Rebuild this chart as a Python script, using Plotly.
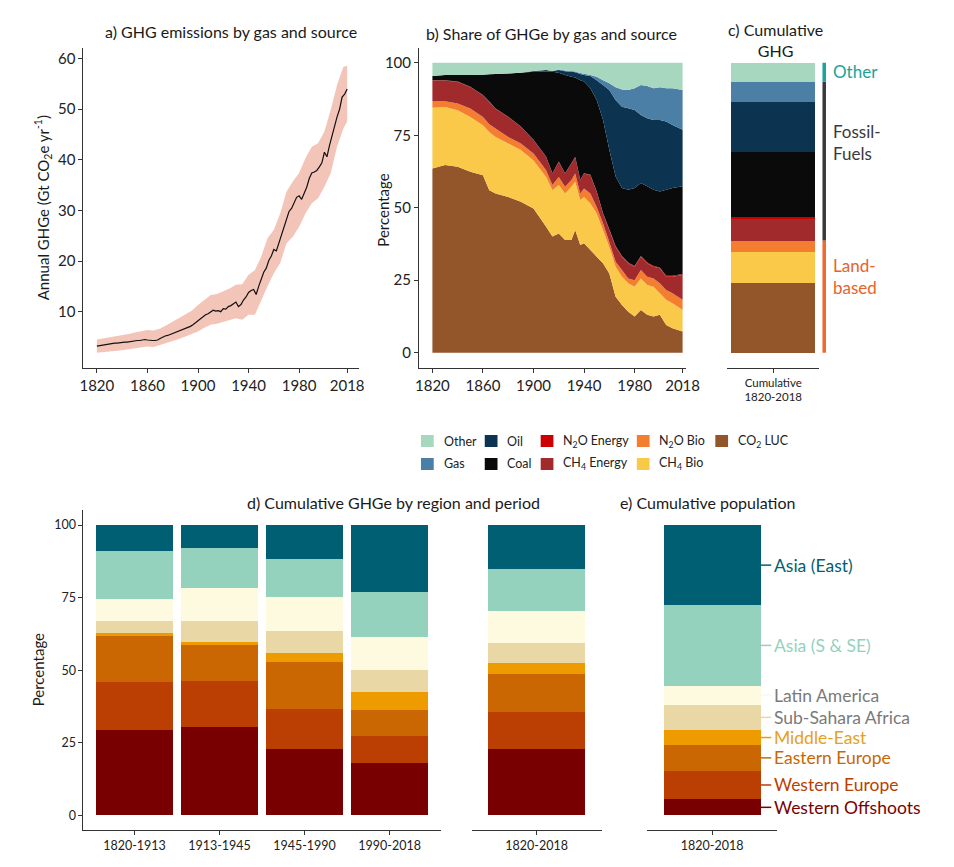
import plotly.graph_objects as go

W, H = 954, 867
FONT = "Lato"


def px(x):
    return x / W


def py(y):
    return 1 - y / H


# ---- a) annual GHG emissions (Gt CO2e / yr) ----
years_a = list(range(1820, 2019, 2))
ghg_total = [3.2, 3.3, 3.4, 3.5, 3.6, 3.6, 3.7, 3.8, 3.8, 3.9,
             3.9, 4.0, 4.0, 4.1, 4.2, 4.2, 4.3, 4.3, 4.4, 4.5,
             4.4, 4.3, 4.3, 4.3, 4.4, 4.7, 5.0, 5.2, 5.3, 5.5,
             5.7, 5.9, 6.1, 6.2, 6.5, 6.7, 6.9, 7.1, 7.4, 7.8,
             8.3, 8.7, 9.0, 9.4, 9.6, 10.0, 10.3, 10.1, 10.2, 10.0,
             10.6, 10.5, 11.0, 11.2, 11.6, 11.9, 11.0, 11.4, 12.3, 12.9,
             13.8, 14.2, 14.4, 13.4, 15.0, 16.6, 17.8, 18.6, 20.1, 21.0,
             22.3, 22.0, 23.5, 25.0, 26.6, 28.2, 29.8, 30.4, 31.4, 32.6,
             32.9, 32.2, 33.4, 34.6, 36.3, 37.4, 37.6, 37.9, 38.6, 39.4,
             41.5, 40.6, 42.8, 44.8, 46.8, 48.5, 50.0, 52.4, 53.0, 54.0]
years_band = list(range(1820, 2016, 5)) + [2018]
ghg_upper = [4.5, 4.7, 4.9, 5.1, 5.4, 5.6, 5.9, 6.1, 6.4, 6.3,
             6.7, 7.3, 8.0, 8.7, 9.4, 10.2, 11.3, 12.3, 13.3, 13.5,
             14.0, 14.6, 15.3, 15.4, 17.3, 18.2, 20.9, 24.5, 26.2, 29.4,
             33.7, 35.7, 37.4, 40.3, 42.6, 43.3, 45.6, 49.9, 54.8, 58.4, 58.6]
ghg_lower = [1.9, 2.0, 2.2, 2.3, 2.4, 2.6, 2.8, 2.9, 3.1, 3.0,
             3.4, 3.7, 4.1, 4.6, 5.1, 5.6, 6.1, 6.8, 7.4, 7.6,
             8.0, 8.4, 8.7, 8.4, 9.4, 9.4, 12.3, 15.0, 17.6, 19.6,
             23.5, 24.8, 26.8, 29.4, 31.4, 32.4, 34.7, 37.4, 42.6, 46.2, 47.6]

# ---- b) share by gas and source (%), stacked bottom-up ----
years_b = [1820, 1830, 1840, 1850, 1860, 1865, 1870, 1880, 1890, 1900,
           1910, 1915, 1920, 1925, 1930, 1933, 1937, 1940, 1945, 1950,
           1955, 1960, 1965, 1970, 1975, 1980, 1985, 1990, 1995, 2000,
           2005, 2010, 2018]
co2_luc = [63.6, 64.8, 64.2, 62.5, 61.3, 56.1, 55.0, 53.8, 52.1, 49.8,
           43.5, 40.1, 41.2, 38.9, 38.9, 42.4, 37.2, 37.8, 35.5, 33.2,
           30.9, 27.4, 19.4, 16.5, 14.2, 12.5, 14.8, 13.1, 12.5, 13.1,
           9.6, 8.5, 7.3]
ch4_bio = [21.0, 20.0, 19.5, 18.9, 17.2, 20.1, 19.5, 18.4, 17.9, 16.6,
           17.2, 16.0, 16.7, 16.1, 18.4, 16.6, 15.5, 16.0, 16.0, 14.9,
           11.5, 9.2, 10.3, 9.8, 9.8, 10.3, 10.9, 10.3, 10.3, 7.5,
           8.7, 8.6, 7.5]
n2o_bio = [2.2, 2.0, 2.3, 2.9, 2.9, 2.7, 2.9, 2.3, 2.2, 2.4,
           2.3, 1.8, 2.8, 2.3, 2.3, 2.9, 2.3, 2.9, 3.5, 2.3,
           2.3, 1.7, 1.8, 2.3, 1.7, 2.3, 2.9, 2.9, 2.9, 3.4,
           3.4, 3.5, 3.5]
ch4_energy = [7.2, 7.2, 7.5, 7.4, 7.5, 7.7, 6.8, 6.9, 5.8, 4.6,
              4.6, 4.0, 5.2, 4.6, 5.7, 5.7, 4.6, 5.2, 6.3, 5.2,
              3.4, 4.1, 5.1, 4.6, 5.2, 4.6, 4.6, 4.6, 4.0, 5.2,
              4.6, 5.7, 8.6]
n2o_energy = [0.1, 0.1, 0.1, 0.1, 0.1, 0.1, 0.1, 0.1, 0.1, 0.1,
              0.1, 0.1, 0.1, 0.1, 0.1, 0.1, 0.1, 0.1, 0.1, 0.2,
              0.2, 0.3, 0.3, 0.3, 0.3, 0.3, 0.3, 0.3, 0.3, 0.3,
              0.3, 0.3, 0.3]
coal = [1.4, 1.8, 2.3, 4.1, 7.0, 9.4, 11.9, 14.9, 18.6, 23.5,
        29.3, 35.0, 30.7, 33.9, 29.9, 27.3, 34.4, 31.6, 29.9, 31.5,
        32.2, 27.5, 24.1, 23.5, 25.2, 27.0, 25.2, 26.4, 26.4, 26.3,
        29.8, 30.4, 30.4]
oil = [0, 0, 0, 0, 0, 0, 0, 0, 0, 0.3,
       0.6, 0.3, 0.9, 1.3, 1.7, 1.8, 2.1, 2.3, 4.2, 6.9,
       12.0, 20.7, 26.4, 28.1, 28.2, 27.0, 23.5, 23.5, 24.1, 24.7,
       23.6, 21.8, 19.5]
gas = [0, 0, 0, 0, 0, 0, 0, 0, 0, 0,
       0, 0, 0.2, 0.2, 0.3, 0.3, 0.4, 0.4, 0.4, 1.2,
       1.7, 2.3, 4.4, 6.0, 6.3, 7.5, 10.4, 11.2, 11.0, 11.3,
       11.5, 12.7, 13.8]
other = [4.6, 4.2, 4.2, 4.2, 4.1, 4.0, 3.9, 3.7, 3.4, 2.8,
         2.5, 2.8, 2.3, 2.7, 2.8, 3.0, 3.5, 3.8, 4.2, 4.8,
         6.0, 7.1, 8.5, 9.2, 9.4, 8.8, 7.7, 8.0, 8.8, 8.5,
         8.8, 8.8, 9.4]

source_names = ["CO<sub>2</sub> LUC", "CH<sub>4</sub> Bio", "N<sub>2</sub>O Bio",
                "CH<sub>4</sub> Energy", "N<sub>2</sub>O Energy", "Coal", "Oil", "Gas", "Other"]
source_colors = ["#93552a", "#fbc94a", "#f37e2f", "#a02a2c", "#cc0000",
                 "#0a0a0a", "#0c3350", "#4b7fa5", "#a7d7be"]
source_series = [co2_luc, ch4_bio, n2o_bio, ch4_energy, n2o_energy, coal, oil, gas, other]

# ---- c) cumulative share 1820-2018 (%) same order as sources ----
cum_label = ["Cumulative<br>1820-2018"]
cum_sources = [24.0, 10.7, 4.0, 7.7, 0.3, 22.7, 17.2, 6.9, 6.5]

# ---- d) / e) regions, bottom-up ----
regions = ["Western Offshoots", "Western Europe", "Eastern Europe", "Middle-East",
           "Sub-Sahara Africa", "Latin America", "Asia (S & SE)", "Asia (East)"]
region_colors = ["#780000", "#bb3e03", "#ca6702", "#ee9b00",
                 "#e9d8a6", "#fefae0", "#94d2bd", "#005f73"]
region_text_colors = ["#7a0000", "#bb3e03", "#ca6702", "#e8a020",
                      "#7a7a7a", "#7a7a7a", "#94d2bd", "#005f73"]
periods = ["1820-1913", "1913-1945", "1945-1990", "1990-2018"]
ghg_1820_1913 = [29.4, 16.6, 15.9, 0.9, 4.2, 7.6, 16.6, 8.8]
ghg_1913_1945 = [30.4, 15.9, 12.4, 1.0, 7.2, 11.5, 13.8, 7.8]
ghg_1945_1990 = [22.8, 13.8, 16.1, 3.3, 7.5, 11.6, 13.3, 11.6]
ghg_1990_2018 = [18.1, 9.2, 9.0, 6.3, 7.5, 11.4, 15.5, 23.0]
ghg_1820_2018 = [23.0, 12.5, 13.2, 3.7, 7.0, 10.9, 14.7, 15.0]
pop_1820_2018 = [5.5, 9.9, 8.8, 5.2, 8.7, 6.6, 27.7, 27.6]
total_label = ["1820-2018"]

fig = go.Figure()

# a) uncertainty band + line
fig.add_trace(go.Scatter(x=years_band, y=ghg_lower, mode="lines", line=dict(width=0),
                         showlegend=False, hoverinfo="skip", xaxis="x", yaxis="y"))
fig.add_trace(go.Scatter(x=years_band, y=ghg_upper, mode="lines", line=dict(width=0),
                         fill="tonexty", fillcolor="#f3c5b9", showlegend=False,
                         hoverinfo="skip", xaxis="x", yaxis="y"))
fig.add_trace(go.Scatter(x=years_a, y=ghg_total, mode="lines", line=dict(color="#111", width=1.2),
                         showlegend=False, xaxis="x", yaxis="y"))

# b) stacked shares
for i, (name, col, vals) in enumerate(zip(source_names, source_colors, source_series)):
    fig.add_trace(go.Scatter(x=years_b, y=vals, name=name, mode="none", stackgroup="b",
                             groupnorm="percent" if i == 0 else None,
                             fillcolor=col, showlegend=False, xaxis="x2", yaxis="y2"))

# c) cumulative bar
for name, col, val in zip(source_names, source_colors, cum_sources):
    fig.add_trace(go.Bar(x=cum_label, y=[val], name=name, marker=dict(color=col, line=dict(width=0)),
                         width=1.0, showlegend=False, xaxis="x3", yaxis="y3"))

# d) / e) regional bars
period_table = [ghg_1820_1913, ghg_1913_1945, ghg_1945_1990, ghg_1990_2018]
for j, (reg, col) in enumerate(zip(regions, region_colors)):
    fig.add_trace(go.Bar(x=periods, y=[p[j] for p in period_table], name=reg,
                         marker=dict(color=col, line=dict(width=0)), width=0.9,
                         showlegend=False, xaxis="x4", yaxis="y4"))
    fig.add_trace(go.Bar(x=total_label, y=[ghg_1820_2018[j]], name=reg,
                         marker=dict(color=col, line=dict(width=0)), width=0.9,
                         showlegend=False, xaxis="x5", yaxis="y5"))
    fig.add_trace(go.Bar(x=total_label, y=[pop_1820_2018[j]], name=reg,
                         marker=dict(color=col, line=dict(width=0)), width=0.9,
                         showlegend=False, xaxis="x6", yaxis="y6"))

shapes = []
annotations = []

# panel titles
title_font = dict(family=FONT, size=16, color="#1a1a1a")
for txt, x, y in [("a) GHG emissions by gas and source", 231, 31),
                  ("b) Share of GHGe by gas and source", 558, 33),
                  ("c) Cumulative<br>GHG", 786, 40),
                  ("d) Cumulative GHGe by region and period", 397, 502),
                  ("e) Cumulative population", 717, 502)]:
    annotations.append(dict(text=txt, x=px(x), y=py(y), xref="paper", yref="paper",
                            showarrow=False, font=title_font, xanchor="center", yanchor="middle"))

# axis titles
for txt, x, y in [("Annual GHGe (Gt CO<sub>2</sub>e yr<sup>-1</sup>)", 39, 208),
                  ("Percentage", 386, 210),
                  ("Percentage", 35, 670)]:
    annotations.append(dict(text=txt, x=px(x), y=py(y), xref="paper", yref="paper",
                            showarrow=False, textangle=-90, xanchor="center", yanchor="middle",
                            font=dict(family=FONT, size=15, color="#1a1a1a")))

# c) brackets for Other / Fossil-Fuels / Land-based
land_top = sum(cum_sources[:3])
fossil_top = sum(cum_sources[:8])
bx = px(836)
for y0, y1, col in [(0, land_top, "#ef6a2a"), (land_top, fossil_top, "#3a3a3a"),
                    (fossil_top, sum(cum_sources), "#1ba39a")]:
    shapes.append(dict(type="line", xref="paper", yref="y3", x0=bx, x1=bx, y0=y0, y1=y1,
                       line=dict(color=col, width=3.5)))
for txt, y, col in [("Other", 72, "#1ba39a"), ("Fossil-<br>Fuels", 143, "#3a3a3a"),
                    ("Land-<br>based", 276, "#e8622a")]:
    annotations.append(dict(text=txt, x=px(843), y=py(y), xref="paper", yref="paper",
                            showarrow=False, xanchor="left", yanchor="middle", align="left",
                            font=dict(family=FONT, size=17, color=col)))

# legend for b/c
legend_rows = [[8, 6, 4, 2, 0], [7, 5, 3, 1]]
legend_cols = [425, 490, 547, 645, 725]
legend_ys = [441, 464]
for r, row in enumerate(legend_rows):
    for c, idx in enumerate(row):
        x0 = legend_cols[c]
        y0 = legend_ys[r]
        shapes.append(dict(type="rect", xref="paper", yref="paper",
                           x0=px(x0), x1=px(x0 + 13), y0=py(y0 - 6), y1=py(y0 + 6),
                           fillcolor=source_colors[idx], line=dict(width=0)))
        annotations.append(dict(text=source_names[idx], x=px(x0 + 21), y=py(y0),
                                xref="paper", yref="paper", showarrow=False,
                                xanchor="left", yanchor="middle",
                                font=dict(family=FONT, size=12.5, color="#222")))

# e) region labels at segment midpoints
bottom = 0
for j, reg in enumerate(regions):
    mid = bottom + pop_1820_2018[j] / 2
    bottom += pop_1820_2018[j]
    shapes.append(dict(type="line", xref="paper", yref="y6", x0=px(771), x1=px(782),
                       y0=mid, y1=mid, line=dict(color=region_colors[j], width=1.5)))
    annotations.append(dict(text=reg, x=px(783), y=mid, xref="paper", yref="y6",
                            showarrow=False, xanchor="left", yanchor="middle",
                            font=dict(family=FONT, size=17.5, color=region_text_colors[j])))

axis_style = dict(showline=True, linecolor="#333", linewidth=1, ticks="outside", ticklen=4,
                  tickcolor="#333", showgrid=False, zeroline=False, fixedrange=True,
                  tickfont=dict(family=FONT, size=15, color="#222"))
small_ticks = dict(axis_style, tickfont=dict(family=FONT, size=12.5, color="#222"))
hidden = dict(visible=False, showgrid=False, zeroline=False, fixedrange=True)

top_dom = [py(367.7), py(48)]
bot_dom = [py(830), py(510)]

fig.update_layout(
    width=W, height=H, autosize=False,
    margin=dict(l=0, r=0, t=0, b=0),
    paper_bgcolor="white", plot_bgcolor="white",
    font=dict(family=FONT, color="#222"),
    barmode="stack", showlegend=False,
    xaxis=dict(axis_style, domain=[px(81), px(362)], range=[1809.4, 2027.5],
               tickvals=[1820, 1860, 1900, 1940, 1980, 2018], anchor="y"),
    yaxis=dict(axis_style, domain=top_dom, range=[-1.07, 62.1],
               tickvals=[10, 20, 30, 40, 50, 60], anchor="x"),
    xaxis2=dict(axis_style, domain=[px(423), px(695)], range=[1809.4, 2020.6],
                tickvals=[1820, 1860, 1900, 1940, 1980, 2018], anchor="y2"),
    yaxis2=dict(axis_style, domain=top_dom, range=[-5.17, 105.1],
                tickvals=[0, 25, 50, 75, 100], anchor="x2"),
    xaxis3=dict(axis_style, domain=[px(737), px(831)], range=[-0.55, 0.55], type="category",
                anchor="y3", tickfont=dict(family=FONT, size=11.5, color="#222")),
    yaxis3=dict(hidden, domain=top_dom, range=[-5.17, 105.1], anchor="x3"),
    xaxis4=dict(small_ticks, domain=[px(81), px(445)], range=[-0.6, 3.6], type="category",
                anchor="y4"),
    yaxis4=dict(small_ticks, domain=bot_dom, range=[-5.06, 105.2],
                tickvals=[0, 25, 50, 75, 100], anchor="x4"),
    xaxis5=dict(small_ticks, domain=[px(476.7), px(609)], range=[-0.6, 0.6], type="category",
                anchor="y5"),
    yaxis5=dict(hidden, domain=bot_dom, range=[-5.06, 105.2], anchor="x5"),
    xaxis6=dict(small_ticks, domain=[px(655.7), px(787.7)], range=[-0.6, 0.6], type="category",
                anchor="y6"),
    yaxis6=dict(hidden, domain=bot_dom, range=[-5.06, 105.2], anchor="x6"),
    shapes=shapes,
    annotations=annotations,
)

# no page margin or scrollbars, so the figure fills the window exactly
fig.write_html("out.html", config={"displayModeBar": False},
               post_script="document.body.style.margin = '0';"
                           "document.body.style.overflow = 'hidden';"
                           "document.documentElement.style.overflow = 'hidden';")
